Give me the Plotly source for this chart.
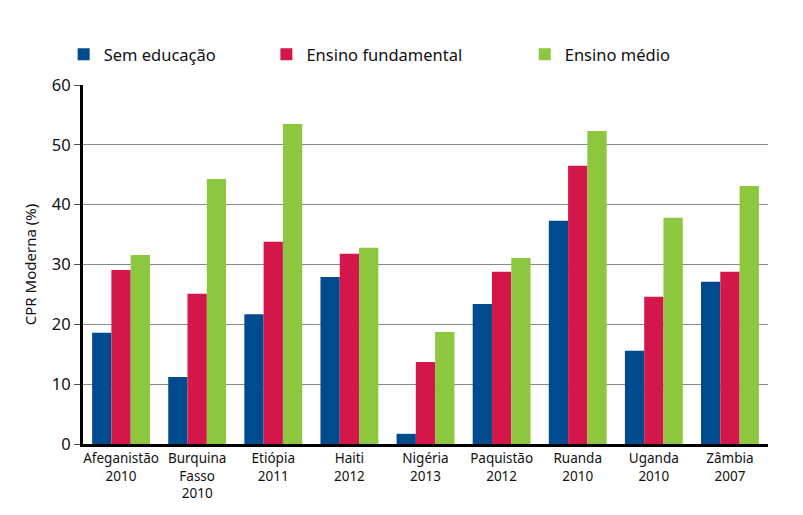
import plotly.graph_objects as go

paises = ['Afeganistão<br>2010', 'Burquina<br>Fasso<br>2010', 'Etiópia<br>2011', 'Haiti<br>2012',
          'Nigéria<br>2013', 'Paquistão<br>2012', 'Ruanda<br>2010', 'Uganda<br>2010', 'Zâmbia<br>2007']
sem_educacao = [18.6, 11.2, 21.7, 27.9, 1.7, 23.4, 37.3, 15.6, 27.1]
fundamental = [29.1, 25.1, 33.8, 31.8, 13.7, 28.8, 46.5, 24.6, 28.8]
medio = [31.6, 44.3, 53.5, 32.8, 18.7, 31.1, 52.3, 37.8, 43.1]

fonte = 'Noto Sans'

fig = go.Figure()
fig.add_trace(go.Bar(x=paises, y=sem_educacao, name='Sem educação', showlegend=True,
                     marker=dict(color='#004B8D', line=dict(width=0)), legend='legend'))
fig.add_trace(go.Bar(x=paises, y=fundamental, name='Ensino fundamental', showlegend=True,
                     marker=dict(color='#D4174A', line=dict(width=0)), legend='legend2'))
fig.add_trace(go.Bar(x=paises, y=medio, name='Ensino médio', showlegend=True,
                     marker=dict(color='#8DC63F', line=dict(width=0)), legend='legend3'))

# a página tem margem de 8px no body, por isso a figura é um pouco menor
leg = dict(orientation='h', xref='container', yref='container', yanchor='middle', y=0.908,
           xanchor='left', font=dict(family=fonte, size=16.5, color='#111'),
           bgcolor='rgba(0,0,0,0)', visible=True)
fig.update_layout(
    width=795, height=507,
    margin=dict(l=75, r=35, t=77, b=71),
    plot_bgcolor='white', paper_bgcolor='white',
    showlegend=True,
    barmode='group', bargap=0.24, bargroupgap=0,
    font=dict(family=fonte, color='#111'),
    legend=dict(leg, x=0.070),
    legend2=dict(leg, x=0.325),
    legend3=dict(leg, x=0.650),
)
fig.update_yaxes(range=[0, 60], dtick=10, showgrid=True, gridcolor='#8a8a8a', gridwidth=1,
                 showline=True, linecolor='black', linewidth=3, automargin=False,
                 ticks='outside', ticklen=6, tickcolor='#555', tickwidth=1,
                 tickfont=dict(size=16.5), title=dict(text='CPR Moderna (%)', font=dict(size=15), standoff=12))
fig.update_xaxes(showline=True, linecolor='black', linewidth=3, ticks='', automargin=False,
                 tickfont=dict(size=13.5), tickangle=0)

fig.write_html('out.html')
